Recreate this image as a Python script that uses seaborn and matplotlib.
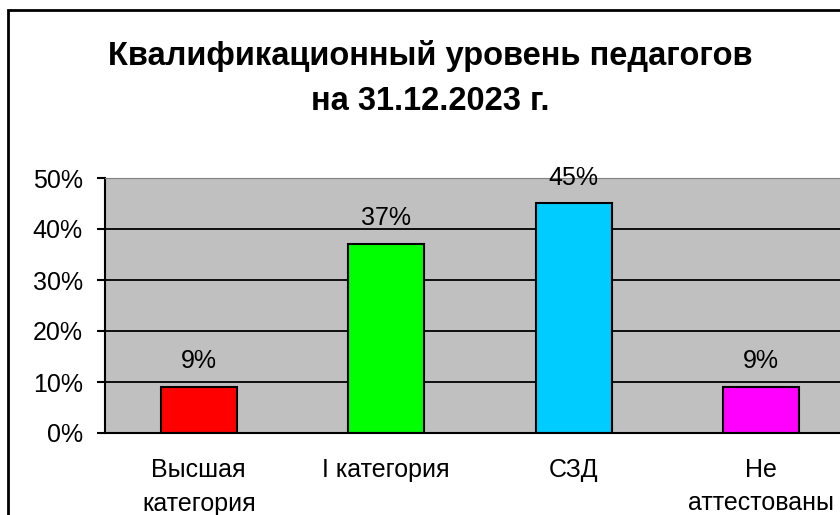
import matplotlib
matplotlib.use("Agg")
import matplotlib.pyplot as plt
import matplotlib.patches as mpatches
from matplotlib.ticker import PercentFormatter, FixedLocator
import seaborn as sns
import pandas as pd

# Dados do gráfico
categorias = ["Высшая\nкатегория", "I категория", "СЗД", "Не\nаттестованы"]
percentuais = [9, 37, 45, 9]
cores = ["#FF0000", "#00FF00", "#00CCFF", "#FF00FF"]
titulo_1 = "Квалификационный уровень педагогов"
titulo_2 = "на 31.12.2023 г."

sns.set_style("white")
plt.rcParams["font.family"] = ["Liberation Sans", "DejaVu Sans"]
plt.rcParams["text.color"] = "black"
plt.rcParams["xtick.color"] = "black"
plt.rcParams["ytick.color"] = "black"
plt.rcParams["axes.labelcolor"] = "black"

df = pd.DataFrame({"cat": categorias, "val": percentuais})

fig = plt.figure(figsize=(8.4, 5.15), dpi=100)
# eixo se estende além da borda direita, como no original recortado
ax = fig.add_axes([105 / 840, 82 / 515, 750 / 840, 255 / 515])

sns.barplot(data=df, x="cat", y="val", hue="cat", palette=cores, legend=False,
            width=0.405, edgecolor="black", linewidth=1.5, saturation=1, ax=ax)

ax.set_facecolor("#C0C0C0")
ax.set_ylim(0, 50)
ax.set_xlim(-0.5, 3.5)
ax.set_yticks([0, 10, 20, 30, 40, 50])
ax.yaxis.set_major_formatter(PercentFormatter(xmax=100, decimals=0))
ax.grid(axis="y", color="black", linewidth=1.3)
ax.set_axisbelow(True)

# ticks nas divisões das categorias
ax.xaxis.set_minor_locator(FixedLocator([-0.5, 0.5, 1.5, 2.5, 3.5]))
ax.tick_params(axis="x", which="minor", direction="out", length=6, width=1.5, color="black")
ax.tick_params(axis="x", which="major", length=0, pad=18, labelsize=18)
for lbl in ax.get_xticklabels():
    lbl.set_linespacing(1.5)
ax.tick_params(axis="y", direction="out", length=6, width=1.5, color="black", pad=10, labelsize=18)
ax.tick_params(left=True, bottom=True)

for s in ["left", "bottom"]:
    ax.spines[s].set_color("black")
    ax.spines[s].set_linewidth(1.5)
ax.spines["top"].set_color("#808080")
ax.spines["right"].set_visible(False)

ax.set_xlabel("")
ax.set_ylabel("")

for c in ax.containers:
    ax.bar_label(c, fmt="%d%%", padding=10, fontsize=18, color="black")

fig.text(430 / 840, 1 - 56 / 515, titulo_1, ha="center", va="center",
         fontsize=23.5, fontweight="bold", color="black")
fig.text(430 / 840, 1 - 101 / 515, titulo_2, ha="center", va="center",
         fontsize=23.5, fontweight="bold", color="black")

# moldura do gráfico
fig.patches.append(mpatches.Rectangle((8 / 840, -0.1), 1.2, 1.1 - 10 / 515,
                                      transform=fig.transFigure, fill=False,
                                      edgecolor="black", linewidth=2))

fig.savefig("out.png", dpi=100)
